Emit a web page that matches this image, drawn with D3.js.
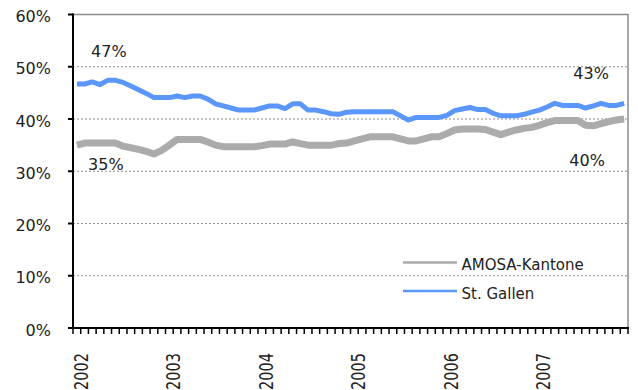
<!DOCTYPE html>
<html>
<head>
<meta charset="utf-8">
<script src="https://cdn.jsdelivr.net/npm/d3@7/dist/d3.min.js"></script>
<style>
  html, body { margin: 0; padding: 0; background: #fff; }
  svg { display: block; font-family: "DejaVu Sans", Verdana, sans-serif; }
</style>
</head>
<body>
<svg id="chart" width="638" height="390"></svg>
<script>
// Monthly series, January 2002 – December 2007 (share in %)
const years = [2002, 2003, 2004, 2005, 2006, 2007];
const months = d3.range(72).map(i => `${years[0] + Math.floor(i / 12)}-${String(i % 12 + 1).padStart(2, "0")}`);

const amosa = [
  35.0, 35.4, 35.4, 35.4, 35.4, 35.4, 34.8, 34.5, 34.2, 33.8, 33.3, 34.0,
  35.0, 36.1, 36.1, 36.1, 36.1, 35.6, 35.0, 34.7, 34.7, 34.7, 34.7, 34.7,
  34.9, 35.2, 35.2, 35.2, 35.6, 35.3, 35.0, 35.0, 35.0, 35.0, 35.3, 35.4,
  35.8, 36.2, 36.6, 36.6, 36.6, 36.6, 36.2, 35.8, 35.8, 36.2, 36.6, 36.6,
  37.2, 37.9, 38.1, 38.1, 38.1, 38.0, 37.5, 37.0, 37.5, 37.9, 38.2, 38.4,
  38.8, 39.3, 39.7, 39.7, 39.7, 39.7, 38.8, 38.7, 39.1, 39.5, 39.8, 40.0
];
const stGallen = [
  46.7, 46.7, 47.1, 46.6, 47.4, 47.4, 47.0, 46.3, 45.6, 44.9, 44.1, 44.1,
  44.1, 44.4, 44.1, 44.4, 44.4, 43.8, 42.9, 42.5, 42.1, 41.7, 41.7, 41.7,
  42.1, 42.5, 42.5, 42.0, 42.9, 42.9, 41.7, 41.7, 41.4, 41.0, 40.9, 41.3,
  41.4, 41.4, 41.4, 41.4, 41.4, 41.4, 40.6, 39.8, 40.3, 40.3, 40.3, 40.3,
  40.7, 41.6, 41.9, 42.2, 41.8, 41.8, 41.1, 40.6, 40.6, 40.6, 40.9, 41.3,
  41.7, 42.3, 43.0, 42.6, 42.6, 42.6, 42.1, 42.5, 43.0, 42.6, 42.6, 43.0
];
const seriesNames = ["AMOSA-Kantone", "St. Gallen"];
const yTicks = [0, 10, 20, 30, 40, 50, 60];

const colors = { amosa: "#ababab", stGallen: "#5b96fb" };

const svg = d3.select("#chart");
const plotLeft = 73, plotRight = 628, plotTop = 14.5, plotBottom = 328;

const x = d3.scaleBand().domain(months).range([plotLeft, plotRight]).padding(0);
const xc = m => x(m) + x.bandwidth() / 2;
const y = d3.scaleLinear().domain([0, 60]).range([plotBottom, plotTop]);

// Gridlines (dotted)
svg.append("g").selectAll("line")
  .data(yTicks.filter(t => t > 0 && t < 60))
  .join("line")
  .attr("x1", plotLeft).attr("x2", plotRight)
  .attr("y1", d => y(d)).attr("y2", d => y(d))
  .attr("stroke", "#8c8c8c").attr("stroke-width", 1)
  .attr("stroke-dasharray", "2,2");

// Plot frame: top and right edges
svg.append("path")
  .attr("d", `M${plotLeft},${y(60)}H${plotRight}V${plotBottom}`)
  .attr("fill", "none").attr("stroke", "#8c8c8c").attr("stroke-width", 1.5);

// Series lines
const line = d3.line().x((d, i) => xc(months[i])).y(d => y(d));
svg.append("path").datum(amosa)
  .attr("d", line).attr("fill", "none")
  .attr("stroke", colors.amosa).attr("stroke-width", 7)
  .attr("stroke-linejoin", "round");
svg.append("path").datum(stGallen)
  .attr("d", line).attr("fill", "none")
  .attr("stroke", colors.stGallen).attr("stroke-width", 5)
  .attr("stroke-linejoin", "round");

// Y axis
const yAxis = svg.append("g");
yAxis.append("line")
  .attr("x1", plotLeft).attr("x2", plotLeft).attr("y1", y(60) - 1).attr("y2", plotBottom + 1)
  .attr("stroke", "#000").attr("stroke-width", 2);
yAxis.selectAll("line.tick").data(yTicks).join("line").attr("class", "tick")
  .attr("x1", plotLeft - 5).attr("x2", plotLeft).attr("y1", d => y(d)).attr("y2", d => y(d))
  .attr("stroke", "#000").attr("stroke-width", 2);
yAxis.selectAll("text").data(yTicks).join("text")
  .attr("x", 51).attr("y", d => y(d) + 7.6)
  .attr("text-anchor", "end").attr("font-size", 16).attr("fill", "#222")
  .text(d => d + "%");

// X axis with monthly ticks
const xAxis = svg.append("g");
xAxis.append("line")
  .attr("x1", plotLeft - 1).attr("x2", plotRight + 1).attr("y1", plotBottom).attr("y2", plotBottom)
  .attr("stroke", "#000").attr("stroke-width", 2);
xAxis.selectAll("line.tick").data(months.concat(["end"])).join("line").attr("class", "tick")
  .attr("x1", d => d === "end" ? plotRight : x(d)).attr("x2", d => d === "end" ? plotRight : x(d))
  .attr("y1", plotBottom).attr("y2", plotBottom + 6)
  .attr("stroke", "#000").attr("stroke-width", 1.5);
xAxis.selectAll("text").data(years).join("text")
  .attr("transform", d => `translate(${x(d + "-01") + 14.5},353) scale(1.35,1) rotate(-90)`)
  .attr("text-anchor", "end").attr("font-size", 14.5).attr("fill", "#222")
  .text(d => d);

// Value labels at the start and end of each series
const last = months.length - 1;
const valueLabels = [
  { text: Math.round(stGallen[0]) + "%", x: xc(months[0]) + 32, y: y(stGallen[0]) - 27 },
  { text: Math.round(amosa[0]) + "%", x: xc(months[0]) + 29, y: y(amosa[0]) + 25 },
  { text: Math.round(stGallen[last]) + "%", x: xc(months[last]) - 33, y: y(stGallen[last]) - 24 },
  { text: Math.round(amosa[last]) + "%", x: xc(months[last]) - 37, y: y(amosa[last]) + 47 }
];
svg.append("g").selectAll("text").data(valueLabels).join("text")
  .attr("x", d => d.x).attr("y", d => d.y)
  .attr("text-anchor", "middle").attr("font-size", 16).attr("fill", "#222")
  .text(d => d.text);

// Legend
const legend = svg.append("g");
const legendItems = [
  { name: seriesNames[0], color: colors.amosa, y: 262.5, base: 270 },
  { name: seriesNames[1], color: colors.stGallen, y: 291, base: 298.5 }
];
legend.selectAll("line").data(legendItems).join("line")
  .attr("x1", 403).attr("x2", 457).attr("y1", d => d.y).attr("y2", d => d.y)
  .attr("stroke", d => d.color).attr("stroke-width", 2.5);
legend.selectAll("text").data(legendItems).join("text")
  .attr("x", 461.5).attr("y", d => d.base)
  .attr("font-size", 15).attr("fill", "#222")
  .text(d => d.name);
</script>
</body>
</html>
